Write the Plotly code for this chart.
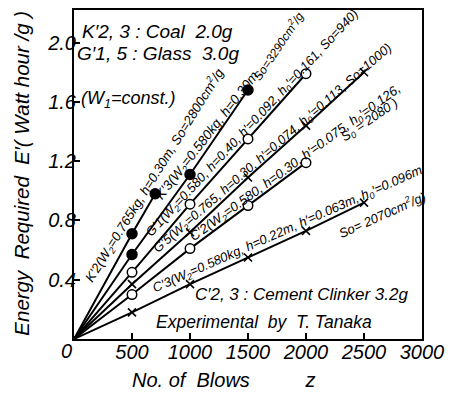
import plotly.graph_objects as go

# ---- data ----
blows_K2 = [500, 700]
energy_K2 = [0.71, 0.98]
blows_K3 = [500, 1000, 1500]
energy_K3 = [0.57, 1.11, 1.68]
blows_G1 = [500, 1000, 1500, 2000]
energy_G1 = [0.45, 0.91, 1.35, 1.79]
blows_G5 = [500, 1000, 1500, 2000, 2500]
energy_G5 = [0.37, 0.72, 1.09, 1.44, 1.80]
blows_C2 = [500, 1000, 1500, 2000]
energy_C2 = [0.30, 0.61, 0.90, 1.19]
blows_C3 = [500, 1000, 1500, 2000, 2500]
energy_C3 = [0.18, 0.37, 0.55, 0.73, 0.92]

x_ticks = [500, 1000, 1500, 2000, 2500, 3000]
x_tick_labels = ["500", "1000", "1500", "2000", "2500", "3000"]
y_ticks = [0.4, 0.8, 1.2, 1.6, 2.0]
y_tick_labels = ["0.4", "0.8", "1.2", "1.6", "2.0"]

FONT = "Liberation Sans Narrow, Liberation Sans, Arial, sans-serif"
FONT2 = "Liberation Sans, Arial, sans-serif"

W, H = 452, 395
L, R, T, B = 74, 19, 8, 56
XMAX, YMAX = 3000, 2.22

fig = go.Figure()

series = [
    (blows_K2, energy_K2, "circle", "black"),
    (blows_K3, energy_K3, "circle", "black"),
    (blows_G1, energy_G1, "circle", "white"),
    (blows_G5, energy_G5, "x-thin", "black"),
    (blows_C2, energy_C2, "circle", "white"),
    (blows_C3, energy_C3, "x-thin", "black"),
]
for bx, ey, sym, fill in series:
    fig.add_trace(go.Scatter(x=[0] + bx, y=[0] + ey, mode="lines",
                             line=dict(color="black", width=2),
                             hoverinfo="skip", showlegend=False))
for bx, ey, sym, fill in series:
    if sym == "circle":
        mk = dict(symbol="circle", size=10 if fill == "black" else 9.5,
                  color=fill, line=dict(color="black", width=1.5))
    else:
        mk = dict(symbol="x-thin", size=8, color="black",
                  line=dict(color="black", width=1.6))
    fig.add_trace(go.Scatter(x=bx, y=ey, mode="markers", marker=mk,
                             showlegend=False))


def px2x(px):
    return (px - L) / (W - L - R) * XMAX


def py2y(py):
    return (H - B - py) / (H - T - B) * YMAX


def label(text, px, py, angle=0, size=13, font=FONT):
    fig.add_annotation(x=px2x(px), y=py2y(py), xref="x", yref="y",
                       text=text, showarrow=False, textangle=angle,
                       font=dict(family=font, size=size, color="black",
                                 style="italic"),
                       xanchor="center", yanchor="middle")


def paper_label(text, px, py, size, angle=0):
    fig.add_annotation(x=(px - L) / (W - L - R), y=(H - B - py) / (H - T - B),
                       xref="paper", yref="paper", text=text,
                       showarrow=False, textangle=angle,
                       xanchor="center", yanchor="middle",
                       font=dict(family=FONT2, size=size, style="italic",
                                 color="black"))


# in-plot texts
label("K′2, 3 : Coal  2.0g", 160, 30, size=19)
label("G′1, 5 : Glass  3.0g", 161, 52, size=19)
label("(W<sub>1</sub>=const.)", 130, 98, size=18)
label("C′2, 3 : Cement Clinker 3.2g", 309, 294, size=17)
label("Experimental  by  T. Tanaka", 270, 322, size=17.5)

label("K′2(W<sub>2</sub>=0.765kg, h=0.30m, So=2800cm<sup>2</sup>/g",
      157, 174, angle=-58, size=13.2)
label("K′3(W<sub>2</sub>=0.580kg, h=0.30m,", 213, 133, angle=-52, size=13.5)
label("So=3290cm<sup>2</sup>/g", 284, 44, angle=-56, size=12)
label("G′1(W<sub>2</sub>=0.580, h=0.40, h′=0.092, h<sub>0</sub>′=0.161, So=940)",
      258, 122, angle=-47, size=13)
label("G′5(W<sub>2</sub>=0.765, h=0.30, h′=0.074, h<sub>0</sub>′=0.113, So=1000)",
      279, 147, angle=-41, size=13)
label("C′2(W<sub>2</sub>=0.580, h=0.30, h′=0.075, h<sub>0</sub>′=0.126,",
      302, 162, angle=-36, size=13.3)
label("S<sub>0</sub> = 2080 )", 379, 119, angle=-34, size=13)
label("C′3(W<sub>2</sub>=0.580kg, h=0.22m, h′=0.063m, h<sub>0</sub>′=0.096m",
      295, 229, angle=-24, size=13)
label("So= 2070cm<sup>2</sup>/g)", 392, 213, angle=-24, size=13)

# origin label and axis titles
paper_label("0", 66, 351, 20)
paper_label("No. of  Blows" + "\u00a0" * 10 + "z", 228, 380, 20)
paper_label("Energy  Required  E′( Watt hour /g )", 19, 172, 20.5, angle=-90)

axis_common = dict(showgrid=False, zeroline=False, showline=True,
                   linecolor="black", linewidth=2, mirror=True,
                   ticks="inside", ticklen=6, tickwidth=1.5,
                   tickcolor="black", ticklabeloverflow="allow",
                   tickfont=dict(family=FONT2, size=20, style="italic",
                                 color="black"))
fig.update_xaxes(range=[0, XMAX], tickvals=x_ticks, ticktext=x_tick_labels,
                 ticklabelstandoff=-6, **axis_common)
fig.update_yaxes(range=[0, YMAX], tickvals=y_ticks, ticktext=y_tick_labels,
                 ticklabelstandoff=-8, **axis_common)

fig.update_layout(width=W, height=H,
                  margin=dict(l=L, r=R, t=T, b=B, pad=0),
                  paper_bgcolor="white", plot_bgcolor="white",
                  showlegend=False)

fig.write_html("out.html", config={"displayModeBar": False},
               post_script="document.body.style.margin='0';")
